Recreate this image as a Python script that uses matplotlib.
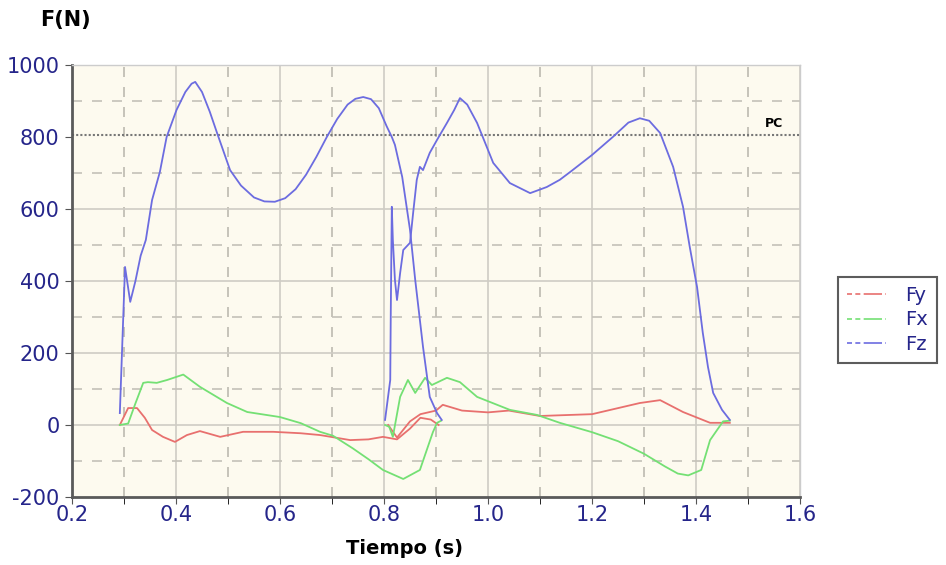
import matplotlib.pyplot as plt
import numpy as np
from matplotlib.lines import Line2D

plt.rcParams['axes.unicode_minus'] = False

# Fz - primer apoyo
fz1_t = [0.292, 0.302, 0.312, 0.322, 0.332, 0.342, 0.354, 0.369, 0.382, 0.401, 0.418, 0.430, 0.437,
         0.450, 0.465, 0.479, 0.504, 0.525, 0.550, 0.570, 0.590, 0.610, 0.630, 0.650, 0.670, 0.690,
         0.710, 0.730, 0.745, 0.760, 0.775, 0.790, 0.805, 0.815, 0.821, 0.835, 0.850, 0.860, 0.875,
         0.888, 0.902, 0.911]
fz1_v = [33, 439, 342, 400, 470, 514, 625, 703, 800, 875, 925, 948, 953,
         925, 870, 811, 708, 665, 632, 621, 620, 630, 655, 695, 745, 800,
         850, 890, 906, 911, 905, 880, 830, 800, 778, 689, 542, 403, 217,
         78, 33, 14]
# Fz - segundo apoyo
fz2_t = [0.802, 0.812, 0.813, 0.815, 0.817, 0.821, 0.825, 0.831, 0.837, 0.850, 0.856, 0.863, 0.869,
         0.875, 0.888, 0.902, 0.921, 0.935, 0.946, 0.960, 0.979, 1.010, 1.042, 1.081, 1.113, 1.138,
         1.160, 1.200, 1.240, 1.270, 1.292, 1.310, 1.331, 1.356, 1.375, 1.388, 1.402, 1.413, 1.423,
         1.433, 1.450, 1.465]
fz2_v = [14, 125, 311, 606, 514, 403, 347, 422, 486, 506, 589, 681, 717,
         708, 756, 792, 839, 875, 908, 890, 839, 728, 672, 644, 661, 681,
         705, 750, 800, 840, 852, 845, 811, 717, 606, 494, 383, 256, 161,
         89, 42, 14]

# Fx
fx1_t = [0.292, 0.308, 0.322, 0.337, 0.346, 0.363, 0.383, 0.414, 0.446, 0.498, 0.537, 0.600, 0.640,
         0.677, 0.702, 0.740, 0.770, 0.798, 0.837, 0.869, 0.894, 0.902, 0.910]
fx1_v = [0, 4, 60, 117, 119, 117, 125, 140, 106, 61, 36, 22, 5,
         -19, -30, -65, -95, -125, -150, -125, -20, 6, 12]
fx2_t = [0.802, 0.810, 0.817, 0.831, 0.846, 0.860, 0.879, 0.892, 0.921, 0.946, 0.979, 1.042, 1.094,
         1.138, 1.200, 1.250, 1.300, 1.340, 1.365, 1.385, 1.410, 1.427, 1.452, 1.465]
fx2_v = [0, -5, -33, 78, 125, 89, 131, 111, 131, 119, 78, 42, 28,
         6, -20, -45, -80, -115, -135, -140, -125, -42, 10, 12]

# Fy
fy1_t = [0.292, 0.308, 0.325, 0.340, 0.354, 0.375, 0.398, 0.421, 0.446, 0.485, 0.529, 0.587, 0.640,
         0.677, 0.735, 0.770, 0.798, 0.825, 0.850, 0.870, 0.890, 0.905]
fy1_v = [0, 47, 47, 20, -14, -33, -47, -28, -17, -33, -19, -19, -23,
         -28, -42, -40, -33, -40, -10, 20, 15, 0]
fy2_t = [0.808, 0.825, 0.850, 0.870, 0.900, 0.913, 0.950, 1.000, 1.040, 1.100, 1.200, 1.292, 1.331,
         1.375, 1.427, 1.465]
fy2_v = [0, -35, 10, 30, 40, 56, 40, 35, 40, 25, 30, 61, 69,
         36, 6, 6]

pc_level = 805

col_fy = '#e8706e'
col_fx = '#74e074'
col_fz = '#6c6ce0'
navy = '#25258a'

fig = plt.figure(figsize=(9.46, 5.65), dpi=100)
ax = fig.add_axes([0.0761, 0.1204, 0.7696, 0.7646])
ax.set_facecolor('#fdfaef')

# rejilla
for x in np.arange(0.3, 1.6, 0.2):
    ax.axvline(x, color='#bdbab0', lw=1.2, ls=(0, (6, 6)), zorder=1)
for x in np.arange(0.4, 1.6, 0.2):
    ax.axvline(x, color='#cfccc4', lw=1.2, zorder=1)
for y in np.arange(-100, 1000, 200):
    ax.axhline(y, color='#c4c1b8', lw=1.2, ls=(0, (6, 6)), zorder=1)
for y in [0, 200, 400, 600]:
    ax.axhline(y, color='#cfccc4', lw=1.2, zorder=1)

ax.axhline(pc_level, color='#777777', lw=1.5, ls=(0, (1, 1)), zorder=2)
ax.text(1.567, pc_level + 15, 'PC', fontsize=9, fontweight='bold', ha='right', va='bottom')

lw = 1.3
ax.plot(fy1_t, fy1_v, color=col_fy, lw=lw, zorder=3)
ax.plot(fy2_t, fy2_v, color=col_fy, lw=lw, zorder=3)
ax.plot(fx1_t, fx1_v, color=col_fx, lw=lw, zorder=3)
ax.plot(fx2_t, fx2_v, color=col_fx, lw=lw, zorder=3)
ax.plot(fz1_t, fz1_v, color=col_fz, lw=lw, zorder=4)
ax.plot(fz2_t, fz2_v, color=col_fz, lw=lw, zorder=4)

ax.set_xlim(0.2, 1.6)
ax.set_ylim(-200, 1000)
ax.set_xticks(np.arange(0.2, 1.61, 0.2))
ax.set_xticklabels(['0.2', '0.4', '0.6', '0.8', '1.0', '1.2', '1.4', '1.6'])
ax.set_xticks(np.arange(0.3, 1.6, 0.2), minor=True)
ax.set_yticks(np.arange(-200, 1001, 200))
ax.tick_params(axis='both', labelsize=15, labelcolor=navy, color='#555555')
ax.tick_params(axis='x', which='both', length=5, pad=1)
ax.tick_params(axis='y', length=5, pad=4)

for s in ['left', 'bottom']:
    ax.spines[s].set_color('#5a5a5a')
    ax.spines[s].set_linewidth(2)
for s in ['top', 'right']:
    ax.spines[s].set_color('#cccccc')
    ax.spines[s].set_linewidth(1)

fig.text(0.042, 0.965, 'F(N)', fontsize=15, fontweight='bold', va='center', ha='left')
fig.text(0.428, 0.03, 'Tiempo (s)', fontsize=14, fontweight='bold', va='center', ha='center')

handles = [
    Line2D([], [], color=col_fy, lw=1.2, ls=(0, (3, 2, 3, 2, 8, 0))),
    Line2D([], [], color=col_fx, lw=1.2, ls=(0, (3, 2, 3, 2, 8, 0))),
    Line2D([], [], color=col_fz, lw=1.2, ls=(0, (3, 2, 3, 2, 8, 0))),
]
leg = fig.legend(handles, ['Fy', 'Fx', 'Fz'], loc='upper left',
                 bbox_to_anchor=(0.886, 0.51), fontsize=14, frameon=True,
                 fancybox=False, edgecolor='#333333', handlelength=2.0,
                 labelspacing=0.3, borderpad=0.45, handletextpad=1.0,
                 borderaxespad=0)
leg.get_frame().set_linewidth(1.5)
for t in leg.get_texts():
    t.set_color(navy)

fig.savefig('out.png', dpi=100)
